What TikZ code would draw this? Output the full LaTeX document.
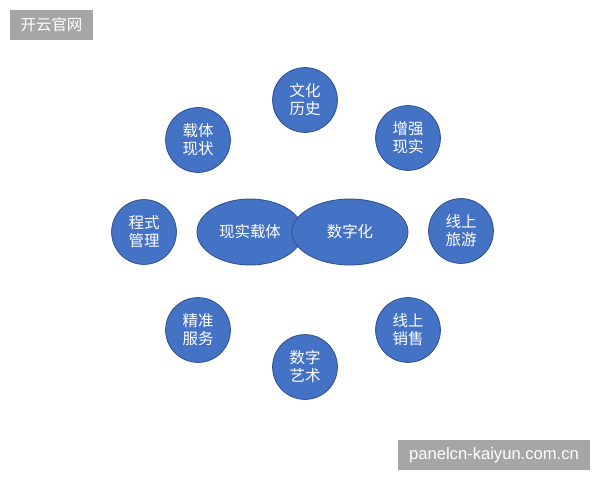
\documentclass[tikz,border=0pt]{standalone}
\usepackage{fontspec}
\setmainfont{Noto Sans CJK SC}
\newfontfamily\latinfont{Liberation Sans}
\usetikzlibrary{shapes.geometric}
\definecolor{bubblefill}{HTML}{4472C4}
\definecolor{bubbleline}{HTML}{2F528F}
\definecolor{markgray}{HTML}{A6A6A6}
\tikzset{
  bubble/.style={circle,draw=bubbleline,fill=bubblefill,line width=0.6pt,minimum size=1.62cm,inner sep=0pt,text=white,align=center,font=\fontsize{11}{12.8}\selectfont},
  core/.style={ellipse,draw=bubbleline,fill=bubblefill,line width=0.6pt,inner sep=0pt,text=white,font=\fontsize{11}{12.8}\selectfont},
  stamp/.style={fill=markgray,text=white,inner sep=0pt}
}
\begin{document}
\begin{tikzpicture}
    \useasboundingbox (0,0) rectangle (15,12);
    % nodes
    \node (guanli) at (3.6,6.2) [bubble] {程式\\管理};
    \node (zaiti) at (6.25,6.2) [core,minimum width=2.65cm,minimum height=1.65cm] {现实载体};
    \node (shuzi) at (8.75,6.2) [core,minimum width=2.9cm,minimum height=1.65cm] {数字化};
    \node (lvyou) at (11.525,6.225) [bubble] {线上\\旅游};
    \node (lishi) at (7.625,9.5) [bubble] {文化\\历史};
    \node (xianzhuang) at (4.95,8.5) [bubble] {载体\\现状};
    \node (zengqiang) at (10.2,8.55) [bubble] {增强\\现实};
    \node (fuwu) at (4.95,3.75) [bubble] {精准\\服务};
    \node (yishu) at (7.625,2.825) [bubble] {数字\\艺术};
    \node (xiaoshou) at (10.2,3.75) [bubble] {线上\\销售};

    % watermarks
    \node (logo) at (1.2875,11.375) [stamp,minimum width=2.075cm,minimum height=0.75cm,font=\fontsize{11}{13}\selectfont] {开云官网};
    \node (site) at (12.35,0.625) [stamp,minimum width=4.8cm,minimum height=0.75cm,font=\latinfont\fontsize{11.8}{13}\selectfont] {panelcn-kaiyun.com.cn};
\end{tikzpicture}
\end{document}
